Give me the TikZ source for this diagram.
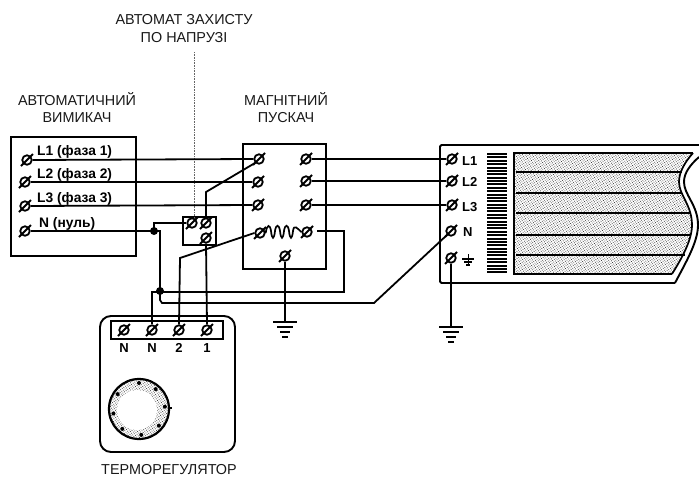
\documentclass[tikz,border=0pt]{standalone}
\usepackage{fontspec}
\setmainfont{Liberation Sans}
\usetikzlibrary{patterns.meta}
\tikzset{
 x=1pt,y=-1pt,
 box/.style={draw=black,line width=1.9pt},
 wire/.style={draw=black,line width=1.8pt,line join=miter},
 screw/.style={circle,draw=black,line width=1.8pt,minimum size=9.5pt,inner sep=0pt},
 slashline/.style={draw=black,line width=2pt},
 caption/.style={font=\fontsize{14.4}{16}\selectfont,align=center,inner sep=0pt,text=black!90},
 blabel/.style={font=\fontsize{13.8}{14}\selectfont\bfseries,anchor=west,inner sep=0pt},
 rlabel/.style={font=\fontsize{13}{14}\selectfont\bfseries,anchor=west,inner sep=0pt},
 leader/.style={draw=black!60,line width=0.6pt,densely dotted},
 dotj/.style={circle,fill=black,minimum size=8pt,inner sep=0pt},
 stip/.style={pattern={Dots[distance=2pt,radius=0.55pt,angle=35]},pattern color=black!75},
}
\newcommand{\screwat}[3]{\node[screw] (#1) at (#2,#3) {};
 \draw[slashline] ([shift={(-6,6)}]#1.center) -- ([shift={(6,-6)}]#1.center);}
\newcommand{\earth}[1]{\draw[line width=2pt] ([shift={(-12,0)}]#1) -- ([shift={(12,0)}]#1);
 \draw[line width=2pt] ([shift={(-8,5)}]#1) -- ([shift={(8,5)}]#1);
 \draw[line width=2pt] ([shift={(-5,10)}]#1) -- ([shift={(5,10)}]#1);
 \draw[line width=2pt] ([shift={(-3,15)}]#1) -- ([shift={(3,15)}]#1);}
\begin{document}
\begin{tikzpicture}
\useasboundingbox (0,0) rectangle (699,479);
\fill[white] (0,0) rectangle (699,479);
% captions
\node[caption] (capA) at (184,28.5) {АВТОМАТ ЗАХИСТУ\\[2.5pt]ПО НАПРУЗІ};
\node[caption] (capB) at (77,107.5) {АВТОМАТИЧНИЙ\\[0.5pt]ВИМИКАЧ};
\node[caption] (capC) at (286,107.5) {МАГНІТНИЙ\\[0.5pt]ПУСКАЧ};
\node[caption] (capD) at (169,470) {ТЕРМОРЕГУЛЯТОР};
% boxes
\draw[box] (11,137) rectangle (136,256);
\draw[box] (183,217) rectangle (216,245);
\draw[box] (243,144) rectangle (326,269);
\draw[box,rounded corners=11pt] (100,316) rectangle (235,452);
\draw[box] (111,321) rectangle (223,339);
% heater
\draw[box,rounded corners=1.5pt] (699,145) -- (440,145) -- (440,283) -- (675,283);
\draw[box] (699,157) .. controls (690,165) and (684,173) .. (684,182)
  .. controls (684,195) and (698,205) .. (698,225)
  .. controls (698,242) and (686,262) .. (675,283);
\path[stip] (513,153) -- (693,153) .. controls (685,162) and (679,172) .. (679,182)
  .. controls (679,195) and (692,205) .. (692,225)
  .. controls (692,240) and (682,258) .. (672,274) -- (513,274) -- cycle;
\draw[line width=1.9pt] (693,153) -- (514,153) -- (514,274) -- (672,274);
\draw[line width=1.7pt] (693,153) .. controls (685,162) and (679,172) .. (679,182)
  .. controls (679,195) and (692,205) .. (692,225)
  .. controls (692,240) and (682,258) .. (672,274);
\foreach \yy/\xx in {172/682,193/681,213/690,235/691,255/685}
  \draw[line width=2.1pt] (516,\yy) -- (\xx,\yy);
\foreach \i in {0,...,35}
  \draw[line width=2pt] (487,{154+\i*3.38}) -- (507,{154+\i*3.38});
% leader
\draw[leader] (194,52) -- (194,217);
% screws
\screwat{aa}{27}{160}\screwat{ab}{25}{182}\screwat{ac}{25}{206}\screwat{an}{25}{231}
\screwat{ba}{192}{223}\screwat{bb}{206}{223}\screwat{bc}{206}{238}
\screwat{ma}{259}{159}\screwat{mb}{258}{182}\screwat{mc}{258}{205}
\screwat{md}{306}{159}\screwat{me}{306}{181}\screwat{mf}{306}{205}
\screwat{mg}{260}{233}\screwat{mh}{307}{232}\screwat{mi}{285}{256}
\screwat{ha}{452}{159}\screwat{hb}{452}{181}\screwat{hc}{452}{205}\screwat{hn}{451}{231}\screwat{hg}{451}{258}
\screwat{ta}{124}{330}\screwat{tb}{152}{330}\screwat{tc}{179}{330}\screwat{td}{207}{330}
% coil
\draw[line width=1.7pt] (mg.east) .. controls (267,224) and (270,224) .. (271,231)
 .. controls (272,240) and (274,240) .. (275,231)
 .. controls (276,224) and (279,224) .. (280,231)
 .. controls (281,240) and (283,240) .. (284,231)
 .. controls (285,224) and (288,224) .. (289,231)
 .. controls (290,240) and (292,240) .. (293,231)
 .. controls (294,224) and (297,228) .. (mh.west);
% labels
\node[blabel] (l1) at (37,152) {L1 (фаза 1)};
\node[blabel] (l2) at (37,175) {L2 (фаза 2)};
\node[blabel] (l3) at (37,199) {L3 (фаза 3)};
\node[blabel] (l4) at (39,224) {N (нуль)};
\node[rlabel] (r1) at (462,161) {L1};
\node[rlabel] (r2) at (462,182) {L2};
\node[rlabel] (r3) at (462,207) {L3};
\node[rlabel] (r4) at (463,232) {N};
\node[rlabel,anchor=center] (n1) at (124,348) {N};
\node[rlabel,anchor=center] (n2) at (152,348) {N};
\node[rlabel,anchor=center] (n3) at (179,348) {2};
\node[rlabel,anchor=center] (n4) at (207,348) {1};
% small earth on heater
\draw[line width=1pt] (468,254) -- (468,266);
\draw[line width=1.1pt] (462,259) -- (474,259);
\draw[line width=1.1pt] (464,262) -- (472,262);
\draw[line width=1.1pt] (466,265) -- (470,265);
% wires
\coordinate (j1) at (154,231);
\coordinate (j2) at (160,231);
\coordinate (j3) at (160,291);
\coordinate (w1) at (206,192);
\coordinate (w2) at (180,258);
\coordinate (w3) at (344,231);
\coordinate (w4) at (344,292);
\coordinate (w5) at (152,292);
\coordinate (w6) at (374,303);
\coordinate (w7) at (162,303);
\coordinate (w8) at (154,223);
\coordinate (e1) at (285,322);
\coordinate (e2) at (451,327);
\draw[wire] (aa.east) -- (ma.west);
\draw[wire] (ab.east) -- (mb.west);
\draw[wire] (ac.east) -- (mc.west);
\draw[wire] (an.east) -- (j2) -- (j3);
\draw[wire] (j1) -- (w8) -- (ba.west);
\draw[wire] (bb.north) -- (w1) -- (ma.south west);
\draw[wire] (mg.west) -- (w2) -- (tc.north);
\draw[wire] (bc.south) -- (td.north);
\draw[wire] (md.east) -- (ha.west);
\draw[wire] (me.east) -- (hb.west);
\draw[wire] (mf.east) -- (hc.west);
\draw[wire] (317,231) -- (w3) -- (w4) -- (w5) -- (tb.north);
\draw[wire] (j3) -- (160,300) -- (w7) -- (w6) -- (hn.south west);
\draw[wire] (mi.south) -- (e1);
\draw[wire] (hg.south) -- (e2);
\earth{e1}
\earth{e2}
\node[dotj] (d1) at (j1) {};
\node[dotj] (d2) at (j3) {};
% dial
\path[stip] (139,409) circle (30);
\fill[white] (137,410) circle (20);
\draw[line width=2.2pt] (139,409) circle (30);
\draw[line width=1.4pt] (169,408) -- (172,408);
\foreach \a in {-90,-50,-5,40,85,130,170,215}
  \fill[black] ({139+26*cos(\a)},{409+26*sin(\a)}) circle (2);
\end{tikzpicture}
\end{document}
